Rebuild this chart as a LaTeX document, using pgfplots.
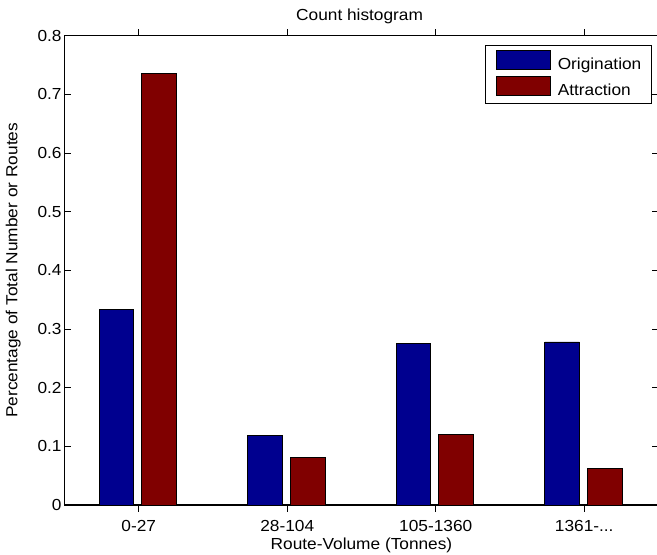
\documentclass[border=0pt]{standalone}
\usepackage{pgfplots}
\pgfplotsset{compat=1.18}
\usepackage{fontspec}
\setmainfont{Liberation Sans}[FakeStretch=1.08]
\definecolor{origblue}{RGB}{0,0,143}
\definecolor{attrred}{RGB}{128,0,0}
\begin{document}
\begin{tikzpicture}
\begin{axis}[
  at={(0,0)}, anchor=south west,
  scale only axis,
  width=445.5pt, height=352pt,
  xmin=0.5, xmax=4.5, ymin=0, ymax=0.8,
  xtick={1,2,3,4},
  xticklabels={0-27,28-104,105-1360,1361-.{}.{}.},
  ytick={0,0.1,0.2,0.3,0.4,0.5,0.6,0.7,0.8},
  yticklabels={0,0.1,0.2,0.3,0.4,0.5,0.6,0.7,0.8},
  tick align=inside,
  major tick length=5pt,
  every tick/.style={black, line width=0.6pt},
  axis line style={line width=0.9pt},
  font=\fontsize{12}{14}\selectfont,
  ticklabel style={font=\fontsize{12}{14}\selectfont},
  xticklabel style={anchor=base, yshift=-14.8pt},
  yticklabel style={anchor=east, inner sep=0pt, xshift=-2pt},
  every axis title shift=0pt,
  title={Count histogram},
  title style={at={(axis description cs:0.4968,1.032)}, anchor=base, inner sep=0pt, font=\fontsize{12}{14}\selectfont},
  xlabel={Route-Volume (Tonnes)},
  xlabel style={at={(axis description cs:0.5,-0.0943)}, anchor=base, inner sep=0pt, font=\fontsize{12}{14}\selectfont},
  ylabel={Percentage of Total Number or Routes},
  ylabel style={at={(axis description cs:-0.0795,0.5)}, anchor=base, inner sep=0pt, font=\fontsize{12}{14}\selectfont},
  ybar, bar width=25.9pt,
  legend style={at={(axis description cs:0.9899,0.9802)}, anchor=north east,
    draw=black, line width=0.75pt, inner xsep=8pt, inner ysep=3.4pt,
    font=\fontsize{12}{14}\selectfont,
    nodes={text height=9pt, text depth=3pt, inner sep=0pt},
    row sep=2.25pt,
    /tikz/every odd column/.append style={column sep=4.9pt}},
  legend cell align=left,
]
\addplot[fill=origblue, draw=black, line width=0.6pt, bar shift=-16.65pt,
  legend image code/.code={\draw[fill=origblue, draw=black, line width=0.6pt] (0pt,-3.1pt) rectangle (40.5pt,11.1pt);}]
  coordinates {(1,0.334) (2,0.119) (3,0.276) (4,0.278)};
\addlegendentry{Origination}
\addplot[fill=attrred, draw=black, line width=0.6pt, bar shift=15.3pt,
  legend image code/.code={\draw[fill=attrred, draw=black, line width=0.6pt] (0pt,-3.1pt) rectangle (40.5pt,11.1pt);}]
  coordinates {(1,0.736) (2,0.081) (3,0.121) (4,0.063)};
\addlegendentry{Attraction}
\end{axis}
\pgfresetboundingbox
\path[use as bounding box] (-48.375pt,-37.5pt) rectangle ++(492.75pt,416.25pt);
\end{tikzpicture}
\end{document}
